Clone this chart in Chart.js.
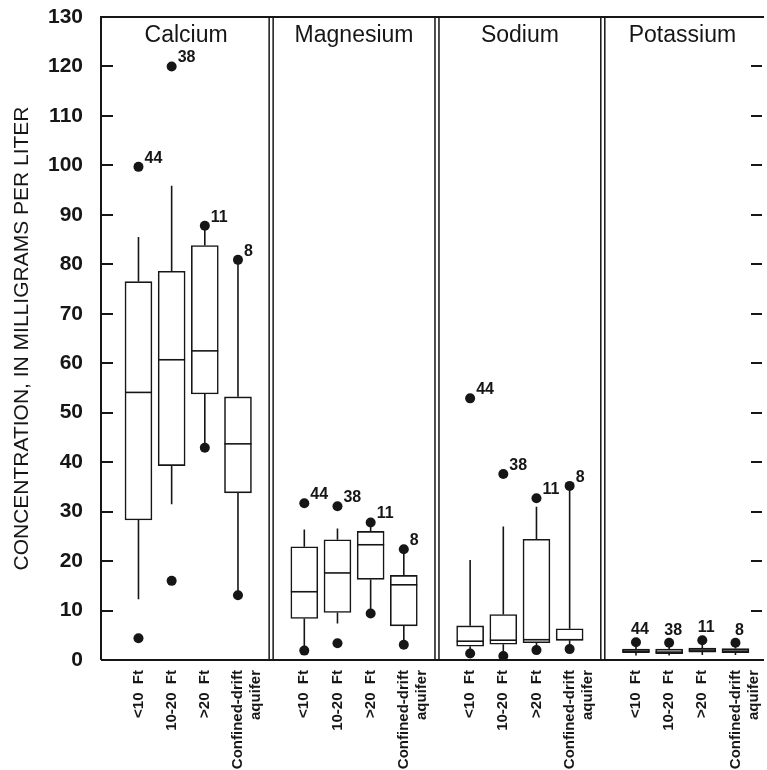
<!DOCTYPE html>
<html><head><meta charset="utf-8">
<script src="https://cdn.jsdelivr.net/npm/chart.js@4.4.1/dist/chart.umd.min.js"></script>
<style>html,body{margin:0;padding:0;background:#fff;}#wrap{width:767px;height:770px;}</style>
</head><body><div id="wrap"><canvas id="c" width="767" height="770"></canvas></div>
<script>
// ---- data ----
const elements = ['Calcium', 'Magnesium', 'Sodium', 'Potassium'];
const categories = ['<10  Ft', '10-20  Ft', '>20  Ft', ['Confined-drift', 'aquifer']];
const sampleSizes = [44, 38, 11, 8];
const yTicks = [0, 10, 20, 30, 40, 50, 60, 70, 80, 90, 100, 110, 120, 130];
const yTitle = 'CONCENTRATION, IN MILLIGRAMS PER LITER';

// rows: Calcium, Magnesium, Sodium, Potassium ; columns: categories
const q1Values = [
  [28.3, 39.3, 53.8, 33.8],
  [8.4, 9.6, 16.3, 6.9],
  [2.8, 3.2, 3.5, 4.0],
  [1.5, 1.3, 1.6, 1.5]
];
const medianValues = [
  [54.1, 60.7, 62.5, 43.7],
  [13.8, 17.6, 23.3, 15.2],
  [3.8, 4.0, 4.1, 4.1],
  [1.8, 1.6, 2.0, 1.8]
];
const q3Values = [
  [76.5, 78.6, 83.8, 53.2],
  [22.9, 24.3, 26.0, 17.1],
  [6.9, 9.2, 24.4, 6.3],
  [2.2, 2.2, 2.4, 2.3]
];
const whiskerLow = [
  [12.3, 31.5, 42.9, 13.1],
  [1.9, 7.4, 9.4, 3.1],
  [1.3, 0.8, 2.0, 2.2],
  [0.9, 0.9, 1.0, 1.0]
];
const whiskerHigh = [
  [85.5, 95.9, 87.8, 80.9],
  [26.4, 26.6, 27.8, 22.4],
  [20.2, 27.0, 31.0, 35.2],
  [3.6, 3.5, 4.0, 3.5]
];
const minValues = [
  [4.4, 16.0, 42.9, 13.1],
  [1.9, 3.4, 9.4, 3.1],
  [1.3, 0.8, 2.0, 2.2],
  [null, null, null, null]
];
const maxValues = [
  [99.7, 120.0, 87.8, 80.9],
  [31.7, 31.1, 27.8, 22.4],
  [52.9, 37.6, 32.7, 35.2],
  [3.6, 3.5, 4.0, 3.5]
];

// ---- layout helpers ----
const FONT = "'Liberation Sans', Arial, Helvetica, sans-serif";
const INK = '#161616';
const slot = (p, i) => p * 5 + 1 + i;   // x position of a box on the linear x scale

const boxData = [], dotData = [], positions = [];
elements.forEach((e, p) => categories.forEach((c, i) => {
  const xv = slot(p, i);
  positions.push(xv);
  boxData.push({ x: xv, y: [q1Values[p][i], q3Values[p][i]] });
  if (maxValues[p][i] != null) dotData.push({ x: xv, y: maxValues[p][i] });
  if (minValues[p][i] != null) dotData.push({ x: xv, y: minValues[p][i] });
}));

const decor = {
  id: 'decor',
  beforeDatasetsDraw(chart) {
    const { ctx, chartArea: a, scales: { x, y } } = chart;
    ctx.save();
    ctx.strokeStyle = INK;
    ctx.lineWidth = 2;
    ctx.beginPath();
    ctx.moveTo(a.left, a.bottom); ctx.lineTo(a.left, a.top); ctx.lineTo(a.right + 2, a.top);
    ctx.moveTo(a.left, a.bottom); ctx.lineTo(a.right + 2, a.bottom);
    ctx.stroke();
    ctx.lineWidth = 1.5;
    for (let p = 1; p < elements.length; p++) {
      const px = x.getPixelForValue(p * 5);
      ctx.beginPath();
      ctx.moveTo(px - 2, a.top); ctx.lineTo(px - 2, a.bottom);
      ctx.moveTo(px + 2, a.top); ctx.lineTo(px + 2, a.bottom);
      ctx.stroke();
    }
    // whiskers
    const meta = chart.getDatasetMeta(0);
    ctx.lineWidth = 1.6;
    elements.forEach((e, p) => categories.forEach((c, i) => {
      const bar = meta.data[p * categories.length + i];
      const px = bar.x;
      ctx.beginPath();
      ctx.moveTo(px, y.getPixelForValue(q3Values[p][i]));
      ctx.lineTo(px, y.getPixelForValue(whiskerHigh[p][i]));
      ctx.moveTo(px, y.getPixelForValue(q1Values[p][i]));
      ctx.lineTo(px, y.getPixelForValue(whiskerLow[p][i]));
      ctx.stroke();
    }));
    ctx.restore();
  },
  afterDatasetsDraw(chart) {
    const { ctx, chartArea: a, scales: { x, y } } = chart;
    const meta = chart.getDatasetMeta(0);
    ctx.save();
    ctx.strokeStyle = INK;
    ctx.lineWidth = 1.6;
    elements.forEach((e, p) => categories.forEach((c, i) => {
      const bar = meta.data[p * categories.length + i];
      const py = y.getPixelForValue(medianValues[p][i]);
      ctx.beginPath();
      ctx.moveTo(bar.x - bar.width / 2, py); ctx.lineTo(bar.x + bar.width / 2, py);
      ctx.stroke();
    }));
    // sample sizes
    ctx.fillStyle = INK;
    ctx.font = 'bold 16px ' + FONT;
    ctx.textBaseline = 'alphabetic';
    elements.forEach((e, p) => categories.forEach((c, i) => {
      const dx = x.getPixelForValue(slot(p, i));
      const dy = y.getPixelForValue(maxValues[p][i]);
      if (p === elements.length - 1) {
        ctx.textAlign = 'center';
        ctx.fillText(String(sampleSizes[i]), dx + 4, dy - 8);
      } else {
        ctx.textAlign = 'left';
        ctx.fillText(String(sampleSizes[i]), dx + 6, dy - 4);
      }
    }));
    // panel titles
    ctx.font = '23px ' + FONT;
    ctx.textAlign = 'center';
    elements.forEach((e, p) => {
      const l = p === 0 ? a.left : x.getPixelForValue(p * 5);
      const r = p === elements.length - 1 ? a.right : x.getPixelForValue((p + 1) * 5);
      ctx.fillText(e, (l + r) / 2, a.top + 25);
    });
    ctx.restore();
  },
  afterDraw(chart) {
    // inward tick marks on both sides of the frame
    const { ctx, chartArea: a, scales: { y } } = chart;
    ctx.save();
    ctx.strokeStyle = INK;
    ctx.lineWidth = 2;
    ctx.lineCap = 'butt';
    yTicks.forEach(v => {
      if (v <= y.min || v >= y.max) return;
      const py = Math.round(y.getPixelForValue(v));
      ctx.beginPath();
      ctx.moveTo(a.left, py); ctx.lineTo(a.left + 12, py);
      ctx.stroke();
      ctx.beginPath();
      ctx.moveTo(a.right, py); ctx.lineTo(a.right - 11, py);
      ctx.stroke();
    });
    ctx.restore();
  }
};

new Chart(document.getElementById('c'), {
  type: 'bar',
  data: {
    datasets: [
      {
        type: 'bar', label: 'box', data: boxData,
        backgroundColor: '#ffffff', borderColor: INK, borderWidth: 1.6,
        borderSkipped: false, barThickness: 27, order: 2
      },
      {
        type: 'scatter', label: 'extremes', data: dotData,
        pointRadius: 5, pointBackgroundColor: INK, pointBorderWidth: 0,
        pointHoverRadius: 5, order: 1
      }
    ]
  },
  options: {
    responsive: false, animation: false, devicePixelRatio: 1,
    layout: { padding: { top: 17, right: 0, left: 0, bottom: 0 } },
    plugins: { legend: { display: false }, tooltip: { enabled: false } },
    scales: {
      x: {
        type: 'linear', min: -0.13, max: 19.8, offset: false,
        grid: { display: false, drawTicks: false, offset: false }, border: { display: false },
        afterBuildTicks: s => { s.ticks = positions.map(v => ({ value: v })); },
        afterFit: s => { s.height = 110; s.paddingLeft = 0; s.paddingRight = 0; },
        ticks: {
          autoSkip: false, minRotation: 90, maxRotation: 90, padding: 10,
          color: INK, font: { family: FONT, size: 15, weight: 'bold' },
          callback: v => categories[(Math.round(v) - 1) % 5]
        }
      },
      y: {
        type: 'linear', min: 0, max: 130,
        grid: { display: false, drawTicks: false }, border: { display: false },
        afterBuildTicks: s => { s.ticks = yTicks.map(v => ({ value: v })); },
        afterFit: s => { s.width = 101; s.paddingTop = 0; s.paddingBottom = 0; },
        ticks: { padding: 18, color: INK, font: { family: FONT, size: 21, weight: 'bold' } },
        title: {
          display: true, text: yTitle, color: INK,
          font: { family: FONT, size: 21, weight: 'normal' }, padding: { top: 10, bottom: 0 }
        }
      }
    }
  },
  plugins: [decor]
});
</script></body></html>
